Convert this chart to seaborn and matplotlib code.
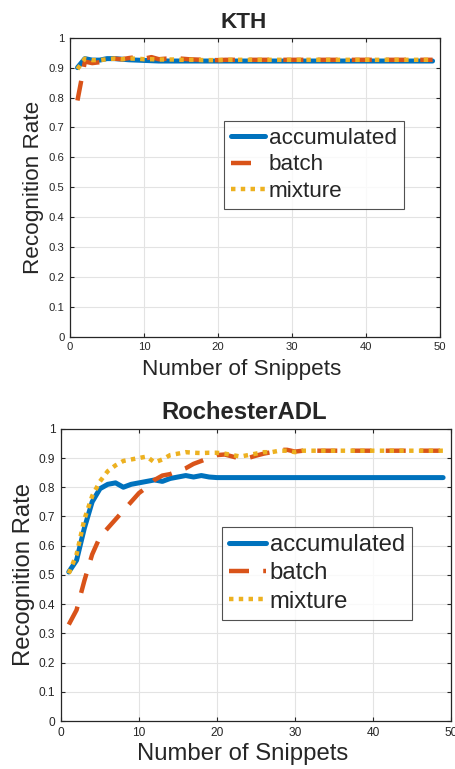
import numpy as np
import pandas as pd
import seaborn as sns
import matplotlib.pyplot as plt

# snippet counts 1..49
snippets = list(range(1, 50))

# KTH
kth_accumulated = [0.90, 0.93, 0.925, 0.925, 0.93, 0.93, 0.928, 0.926, 0.925, 0.924,
                   0.923, 0.922, 0.922, 0.922, 0.922, 0.922, 0.922, 0.922, 0.922, 0.922] + [0.922] * 29
kth_batch = [0.79, 0.92, 0.915, 0.918, 0.925, 0.93, 0.928, 0.932, 0.935, 0.93,
             0.935, 0.928, 0.93, 0.93, 0.93, 0.928, 0.927, 0.926, 0.925, 0.925] + [0.926] * 29
kth_mixture = [0.895, 0.93, 0.925, 0.925, 0.928, 0.93, 0.928, 0.93, 0.93, 0.928,
               0.928, 0.927, 0.927, 0.927, 0.926, 0.926, 0.926, 0.925, 0.925, 0.925] + [0.926] * 29

# RochesterADL
roc_accumulated = [0.51, 0.55, 0.66, 0.75, 0.795, 0.81, 0.815, 0.80, 0.81, 0.815,
                   0.82, 0.825, 0.82, 0.83, 0.835, 0.84, 0.835, 0.84, 0.835] + [0.833] * 30
roc_batch = [0.33, 0.38, 0.48, 0.57, 0.63, 0.66, 0.69, 0.72, 0.75, 0.78,
             0.80, 0.825, 0.84, 0.845, 0.855, 0.865, 0.88, 0.89, 0.90, 0.91,
             0.912, 0.905, 0.898, 0.90, 0.908, 0.915, 0.92, 0.928, 0.928, 0.922] + [0.925] * 19
roc_mixture = [0.505, 0.57, 0.69, 0.77, 0.82, 0.855, 0.875, 0.89, 0.895, 0.90,
               0.905, 0.885, 0.895, 0.91, 0.915, 0.92, 0.918, 0.917, 0.918, 0.918,
               0.915, 0.91, 0.905, 0.91, 0.915, 0.92, 0.92, 0.925, 0.925, 0.92] + [0.925] * 19

titles = ["KTH", "RochesterADL"]
series_names = ["accumulated", "batch", "mixture"]
colors = ["#0072BD", "#D95319", "#EDB120"]

sns.set_style("white")
plt.rcParams['font.family'] = ['Liberation Sans', 'DejaVu Sans']

fig = plt.figure(figsize=(4.55, 7.69), dpi=100)
ax1 = fig.add_axes([0.154, 0.562, 0.813, 0.389])
ax2 = fig.add_axes([0.134, 0.0624, 0.857, 0.380])

# axes, data, legend anchor, scale of that panel
panels = [
    (ax1, [kth_accumulated, kth_batch, kth_mixture], (0.416, 0.722), 0.94),
    (ax2, [roc_accumulated, roc_batch, roc_mixture], (0.413, 0.664), 1.0),
]

styles = [dict(linestyle='-', lw=3.6),
          dict(linestyle=(0, (4.5, 3.2)), lw=3.2),
          dict(linestyle=(0, (1.0, 1.2)), lw=3.2)]

for i, (ax, data, anchor, s) in enumerate(panels):
    df = pd.DataFrame({"x": snippets})
    for name, vals, col, st in zip(series_names, data, colors, styles):
        df[name] = vals
        sns.lineplot(data=df, x="x", y=name, ax=ax, color=col, label=name, **st)
    ax.set_xlim(0, 50)
    ax.set_ylim(0, 1)
    ax.set_xticks(range(0, 51, 10))
    yt = np.round(np.arange(0, 1.01, 0.1), 1)
    ax.set_yticks(yt)
    ax.set_yticklabels(["0" if v == 0 else ("1" if v == 1 else f"{v:g}") for v in yt])
    ax.grid(True, color="#e3e3e3", lw=0.8)
    ax.set_axisbelow(True)
    for sp in ax.spines.values():
        sp.set_color("#262626")
        sp.set_linewidth(0.9)
    ax.tick_params(direction='in', length=3, width=0.8, labelsize=8.6 * s, colors="#262626",
                   top=True, right=True, left=True, bottom=True, pad=4)
    ax.set_xlabel("Number of Snippets", fontsize=17.2 * s, color="#262626", labelpad=1)
    ax.xaxis.set_label_coords(0.465, -0.075 * (1 if i else 1.0) - 0.0)
    ax.set_ylabel("Recognition Rate", fontsize=17.2 * s, color="#262626", labelpad=3)
    ax.set_title(titles[i], fontsize=17.2 * s, fontweight='bold', pad=7, x=0.47)
    leg = ax.legend(loc='upper left', bbox_to_anchor=anchor, fontsize=17.2 * s,
                    frameon=True, fancybox=False, handlelength=1.55, handletextpad=0.15,
                    borderpad=0.3, labelspacing=0.26, borderaxespad=0)
    leg.get_frame().set_edgecolor("#262626")
    leg.get_frame().set_linewidth(0.8)

fig.savefig("out.png", dpi=100)
